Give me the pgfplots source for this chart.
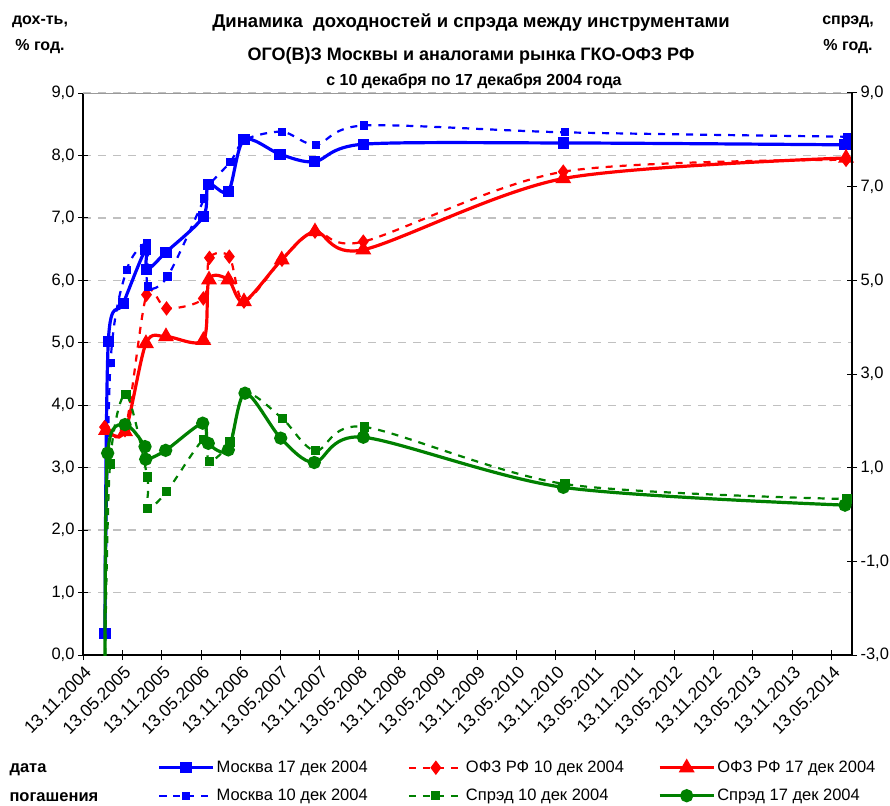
\documentclass[border=0pt]{standalone}
\usepackage{fontspec}
\setmainfont{Liberation Sans}
\usepackage{pgfplots}
\pgfplotsset{compat=1.18}
\definecolor{cblue}{RGB}{0,0,255}
\definecolor{cred}{RGB}{255,0,0}
\definecolor{cgreen}{RGB}{0,128,0}
\definecolor{cgrid}{RGB}{192,192,192}
\pgfplotsset{
  base/.style={scale only axis, width=769pt, height=562pt, at={(83pt,-655pt)}, anchor=south west,
    xmin=0, xmax=9.759, tick align=center, major tick length=10pt,
    tick style={black, line width=1pt},
    ticklabel style={font=\fontsize{16.5}{18}\selectfont},
    /pgf/number format/assume math mode=true,
    /pgf/number format/fixed, /pgf/number format/fixed zerofill,
    /pgf/number format/precision=1, /pgf/number format/use comma},
  limg/.style={legend image code/.code={\draw[mark repeat=2,mark phase=2,##1] plot coordinates {(0pt,0pt) (27pt,0pt) (54pt,0pt)};}},
  mosc17/.style={cblue, line width=3.2pt, smooth, mark=square*, mark size=4pt, mark options={solid}},
  mosc10/.style={cblue, line width=2.2pt, dash pattern=on 7pt off 7pt, smooth, mark=square*, mark size=3pt, mark options={solid}},
  ofz10/.style={cred, line width=2.2pt, dash pattern=on 7pt off 7pt, smooth, mark=diamond*, mark size=5.5pt, mark options={solid}},
  ofz17/.style={cred, line width=3.2pt, smooth, mark=triangle*, mark size=6pt, mark options={solid}},
  spr10/.style={cgreen, line width=2.2pt, dash pattern=on 7pt off 7pt, smooth, mark=square*, mark size=3.5pt, mark options={solid}},
  spr17/.style={cgreen, line width=3.2pt, smooth, mark=*, mark size=5pt, mark options={solid}},
}
\begin{document}
\begin{tikzpicture}[x=1pt,y=1pt]
\path[use as bounding box] (0,0) rectangle (890,-805);
\begin{axis}[base, ymin=0, ymax=9, ytick={0,1,...,9},
  axis x line*=bottom, axis y line*=left, axis line style={-, black, line width=1.2pt},
  ymajorgrids, grid style={cgrid, dash pattern=on 8pt off 7pt, line width=1.3pt},
  xtick={0,0.5,...,9.5},
  xticklabels={13.11.2004,13.05.2005,13.11.2005,13.05.2006,13.11.2006,13.05.2007,13.11.2007,13.05.2008,13.11.2008,13.05.2009,13.11.2009,13.05.2010,13.11.2010,13.05.2011,13.11.2011,13.05.2012,13.11.2012,13.05.2013,13.11.2013,13.05.2014},
  xticklabel style={rotate=45, anchor=north east, inner sep=0pt, xshift=-3pt, yshift=-4pt, font=\fontsize{17.5}{19}\selectfont},
  legend columns=3, legend cell align=left,
  legend style={draw=none, fill=none, at={(axis description cs:0.0965,-0.185)}, anchor=north west,
    inner sep=0pt, font=\fontsize{16.5}{19}\selectfont, row sep=11pt,
    /tikz/column 2/.style={column sep=38pt}, /tikz/column 4/.style={column sep=32pt}},
]
\draw[cgrid!80!black, line width=1.2pt] (rel axis cs:0,1) -- (rel axis cs:1,1);
\addlegendimage{mosc17,limg}
\addlegendimage{ofz10,limg}
\addlegendimage{ofz17,limg}
\addlegendimage{mosc10,limg}
\addlegendimage{spr10,limg}
\addlegendimage{spr17,limg}
\legend{Москва 17 дек 2004, ОФЗ РФ 10 дек 2004, ОФЗ РФ 17 дек 2004, Москва 10 дек 2004, Спрэд 10 дек 2004, Спрэд 17 дек 2004}
% Moscow 17 Dec
\addplot[mosc17, forget plot] coordinates {
(0.279,0.35) (0.321,5.02) (0.511,5.63) (0.796,6.50) (0.808,6.17) (1.053,6.45)
(1.527,7.02) (1.590,7.54) (1.844,7.42) (2.043,8.25) (2.500,8.02) (2.938,7.90)
(3.557,8.18) (6.095,8.20) (9.670,8.17)};
% OFZ 10 Dec
\addplot[ofz10, forget plot] coordinates {
(0.273,3.65) (0.533,3.60) (0.806,5.77) (1.060,5.55) (1.527,5.71) (1.605,6.36)
(1.857,6.38) (2.043,5.66) (2.525,6.33) (2.944,6.78) (3.557,6.62) (6.095,7.74) (9.683,7.93)};
% OFZ 17 Dec
\addplot[ofz17, forget plot] coordinates {
(0.292,3.60) (0.533,3.58) (0.799,4.99) (1.053,5.10) (1.527,5.04) (1.599,6.01)
(1.844,6.01) (2.043,5.66) (2.522,6.33) (2.944,6.78) (3.557,6.49) (6.095,7.63) (9.683,7.96)};
% Moscow 10 Dec
\addplot[mosc10, forget plot] coordinates {
(0.279,0.35) (0.349,4.68) (0.555,6.17) (0.816,6.59) (0.820,5.90) (1.072,6.06)
(1.539,7.31) (1.596,7.52) (1.872,7.90) (2.056,8.25) (2.529,8.38) (2.957,8.17)
(3.570,8.48) (6.117,8.37) (9.695,8.30)};
\end{axis}
\begin{axis}[base, ymin=-3, ymax=9, ytick={-3,-1,...,9},
  axis y line*=right, axis x line=none, axis line style={-, black, line width=1.2pt}]
% Spread 10 Dec
\addplot[spr10] coordinates {
(0.279,-3.30) (0.343,1.08) (0.546,2.57) (0.816,0.80) (0.818,0.13) (1.062,0.49)
(1.527,1.60) (1.603,1.13) (1.865,1.55) (2.056,2.59) (2.529,2.05) (2.953,1.36)
(3.570,1.87) (6.117,0.65) (9.695,0.33)};
% Spread 17 Dec
\addplot[spr17] coordinates {
(0.279,-3.27) (0.313,1.31) (0.533,1.92) (0.787,1.45) (0.796,1.18) (1.049,1.37)
(1.519,1.95) (1.590,1.52) (1.844,1.38) (2.056,2.59) (2.509,1.63) (2.935,1.11)
(3.557,1.65) (6.095,0.58) (9.670,0.20)};
\end{axis}
\node[font=\bfseries\fontsize{18.5}{20}\selectfont] at (471,-23) {Динамика\ \ доходностей и спрэда между инструментами};
\node[font=\bfseries\fontsize{18}{20}\selectfont] at (471,-56) {ОГО(В)З Москвы и аналогами рынка ГКО-ОФЗ РФ};
\node[font=\bfseries\fontsize{16}{18}\selectfont] at (474,-81) {с 10 декабря по 17 декабря 2004 года};
\node[font=\bfseries\fontsize{16}{17}\selectfont] at (40,-22) {дох-ть,};
\node[font=\bfseries\fontsize{16}{17}\selectfont] at (40,-47) {\% год.};
\node[font=\bfseries\fontsize{16}{17}\selectfont] at (848,-22) {спрэд,};
\node[font=\bfseries\fontsize{16}{17}\selectfont] at (848,-47) {\% год.};
\node[font=\bfseries\fontsize{16.5}{18}\selectfont, anchor=west] at (6,-770) {дата};
\node[font=\bfseries\fontsize{16.5}{18}\selectfont, anchor=west] at (6,-797) {погашения};
\end{tikzpicture}
\end{document}
